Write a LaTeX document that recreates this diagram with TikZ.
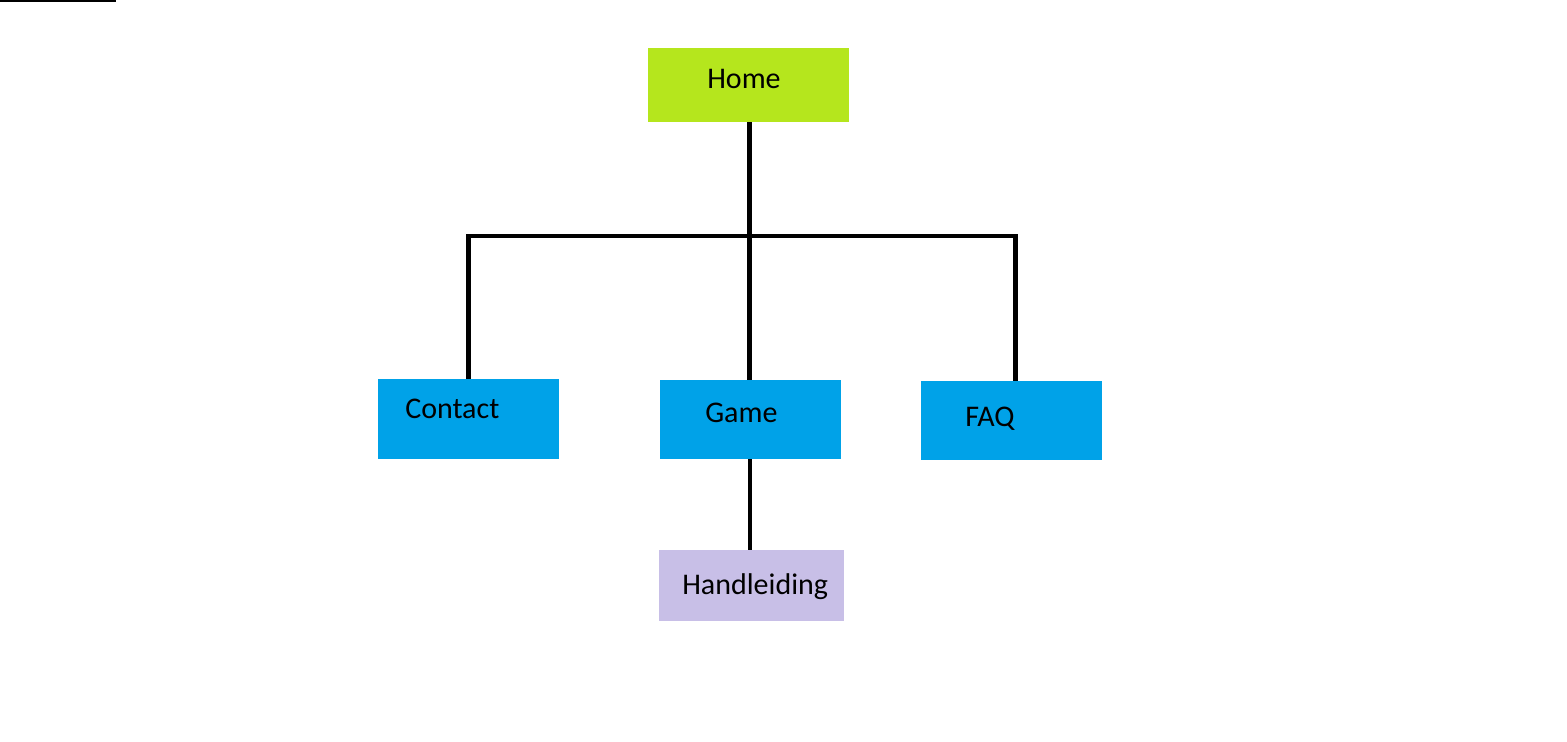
\documentclass[tikz,border=0pt]{standalone}
\usepackage{fontspec}
\setmainfont{Carlito}
\definecolor{limeg}{HTML}{B5E61D}
\definecolor{skyb}{HTML}{00A2E8}
\definecolor{lav}{HTML}{C8BFE7}
\begin{document}
\begin{tikzpicture}[x=0.75pt,y=-0.75pt,
  box/.style={draw=none,inner sep=0pt,outer sep=0pt,anchor=north west},
  lbl/.style={inner sep=0pt,anchor=base west,font=\fontsize{22.5}{27}\selectfont},
  conn/.style={line width=3.5pt,black}]
\useasboundingbox[fill=white] (0,0) rectangle (1567,742);
\draw[line width=0.8pt] (0,1) -- (116,1);
% boxes
\node[box,fill=limeg,minimum width=201*0.75pt,minimum height=74*0.75pt] (home) at (648,48) {};
\node[box,fill=skyb,minimum width=181*0.75pt,minimum height=80*0.75pt] (contact) at (378,379) {};
\node[box,fill=skyb,minimum width=181*0.75pt,minimum height=79*0.75pt] (game) at (660,380) {};
\node[box,fill=skyb,minimum width=181*0.75pt,minimum height=79*0.75pt] (faq) at (921,381) {};
\node[box,fill=lav,minimum width=185*0.75pt,minimum height=71*0.75pt] (hand) at (659,550) {};
% labels
\node[lbl] (thome) at (707,89) {Home};
\node[lbl] (tcontact) at (405,418) {Contact};
\node[lbl] (tgame) at (705,422) {Game};
\node[lbl] (tfaq) at (965,426) {FAQ};
\node[lbl] (thand) at (682,594) {Handleiding};
% connectors
\coordinate (jm) at (749.5,236);
\coordinate (jl) at (468.5,236);
\coordinate (jr) at (1015.5,236);
\draw[conn] (home.south -| jm) -- (game.north -| jm);
\draw[conn] (contact.north -| jl) -- (jl) -- (jr) -- (faq.north -| jr);
\coordinate (jg) at (750,459);
\draw[conn] (game.south -| jg) -- (hand.north -| jg);
\end{tikzpicture}
\end{document}
